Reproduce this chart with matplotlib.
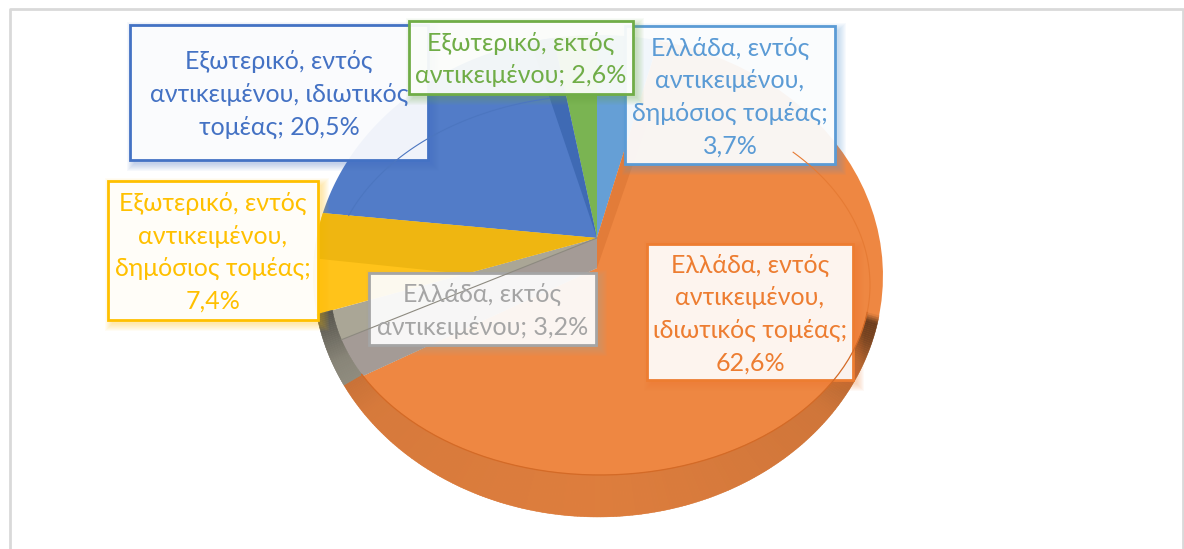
import numpy as np
import matplotlib
matplotlib.use('Agg')
import matplotlib.pyplot as plt
from matplotlib.patches import Polygon, Rectangle

# Data (clockwise from 12 o'clock)
names = ['Ελλάδα, εντός\nαντικειμένου,\nδημόσιος τομέας;',
         'Ελλάδα, εντός\nαντικειμένου,\nιδιωτικός τομέας;',
         'Ελλάδα, εκτός\nαντικειμένου;',
         'Εξωτερικό, εντός\nαντικειμένου,\nδημόσιος τομέας;',
         'Εξωτερικό, εντός\nαντικειμένου, ιδιωτικός\nτομέας;',
         'Εξωτερικό, εκτός\nαντικειμένου;']
values = [3.7, 62.6, 3.2, 7.4, 20.5, 2.6]
value_breaks = ['\n', '\n', ' ', '\n', ' ', ' ']
colors = ['#659fd6', '#ee8742', '#aaa696', '#ffc31a', '#527cc8', '#7ab452']
label_colors = ['#5b9bd5', '#ed7d31', '#a5a5a5', '#ffc000', '#4472c4', '#70ad47']

# Label boxes: left, top, right, bottom in pixels
boxes = [(625, 26, 835, 164), (647, 244, 853, 380), (369, 273, 596, 345),
         (108, 181, 318, 320), (130, 25, 428, 160), (409, 21, 633, 94)]

# Pie geometry in pixels
W, H = 1184, 549
apex = np.array([597.0, 238.0])
cut = np.array([597.0, 268.0])
outer = (598.0, 276.0, 285.0, 241.0)
inner = (600.0, 285.0, 270.0, 190.0)
stretch = 1.32


def hit(theta, ell, origin=apex):
    # where a ray at this pie angle leaves the ellipse
    t = np.radians(theta)
    d = np.array([stretch * np.sin(t), -np.cos(t)])
    cx, cy, rx, ry = ell
    ox, oy = (origin[0] - cx) / rx, (origin[1] - cy) / ry
    dx, dy = d[0] / rx, d[1] / ry
    a = dx * dx + dy * dy
    b = 2 * (ox * dx + oy * dy)
    c = ox * ox + oy * oy - 1
    s = (-b + np.sqrt(b * b - 4 * a * c)) / (2 * a)
    return origin + s * d


def angle_of(p):
    d = p - apex
    return np.degrees(np.arctan2(d[0] / stretch, -d[1])) % 360


def arc(t0, t1, ell=outer):
    return [hit(t, ell) for t in np.linspace(t0, t1, 60)]


def darker(col, f):
    return tuple(np.array(matplotlib.colors.to_rgb(col)) * f)


fig = plt.figure(figsize=(W / 100, H / 100), dpi=100)
ax = fig.add_axes([0, 0, 1, 1])
ax.set_xlim(0, W)
ax.set_ylim(H, 0)
ax.axis('off')

# Chart frame
ax.plot([10, 10, 1183, 1183], [H, 9, 9, H], color='#d9d9d9', lw=2)

edges = np.cumsum([0] + values) * 3.6
orange_end_pt = hit(edges[2], outer, cut)
orange_end = angle_of(orange_end_pt)

# Wedges
ax.add_patch(Polygon([apex] + arc(edges[0], edges[1]), color=colors[0], lw=0))
ax.add_patch(Polygon([apex] + arc(edges[1], orange_end) + [cut], color=colors[1], lw=0))
ax.add_patch(Polygon([apex, cut] + arc(orange_end, edges[3]), color=colors[2], lw=0))
for i in [3, 4, 5]:
    ax.add_patch(Polygon([apex] + arc(edges[i], edges[i + 1]), color=colors[i], lw=0))

# Cut faces inside the slices
ax.add_patch(Polygon([apex, cut, apex + (hit(edges[1] + 5, outer) - apex) * 0.6,
                      apex + (hit(edges[1], outer) - apex) * 0.6],
                     color='#e27c39', lw=0))
ax.add_patch(Polygon([apex] + arc(edges[5] - 5, edges[5]), color='#3f6ab4', lw=0))
yellow_mid = edges[3] + 0.54 * (edges[4] - edges[3])
ax.add_patch(Polygon([apex] + arc(edges[4], yellow_mid) +
                     [apex + (hit(edges[3], outer) - apex) * 0.47],
                     color='#efb611', lw=0))
grey_mid = orange_end + 0.55 * (edges[3] - orange_end)
ax.add_patch(Polygon([apex, cut, orange_end_pt] + arc(orange_end, grey_mid),
                     color='#a49b96', lw=0))
ax.plot(*zip(apex, hit(grey_mid, inner)), color='#8d8a80', lw=0.8)

# Side band along the front of the pie
shade_t = [110, 112, 116, 122, 135, 180, 225, 238, 245, 251]
shade_f = [1.0, 0.45, 0.5, 0.72, 0.87, 0.93, 0.9, 0.8, 0.62, 0.5]
steps = np.arange(110, edges[3], 0.5)
for t0 in steps:
    t1 = min(t0 + 0.5, edges[3])
    tm = (t0 + t1) / 2
    i = 1 if tm < orange_end else 2
    col = darker(colors[i], np.interp(tm, shade_t, shade_f))
    ax.add_patch(Polygon([hit(t0, inner), hit(t1, inner), hit(t1, outer), hit(t0, outer)],
                         facecolor=col, edgecolor=col, lw=0.3))

# Rim of the top face, only where it shows
ax.plot(*zip(*arc(60, 110, inner)), color='#e67b34', lw=0.8)
ax.plot(*zip(*arc(110, orange_end, inner)), color='#d46a26', lw=0.9)
ax.plot(*zip(*arc(edges[4], edges[5] - 5, inner)), color='#4c76c0', lw=0.8)

# Data labels
for name, val, brk, col, (x0, y0, x1, y1) in zip(names, values, value_breaks, label_colors, boxes):
    for k in range(8):
        ax.add_patch(Rectangle((x0 + 4 - k, y0 + 4 - k), x1 - x0 + 2 * k, y1 - y0 + 2 * k,
                               color=col, lw=0, alpha=0.045))
    ax.add_patch(Rectangle((x0, y0), x1 - x0, y1 - y0, facecolor=(1, 1, 1, 0.92),
                           edgecolor=col, lw=2))
    txt = name + brk + f'{val:.1f}%'.replace('.', ',')
    ax.text((x0 + x1) / 2, (y0 + y1) / 2 + 2, txt, color=col, ha='center', va='center',
            family=['Lato', 'Open Sans'], fontsize=18, linespacing=1.5)

fig.savefig('out.png', dpi=100)
